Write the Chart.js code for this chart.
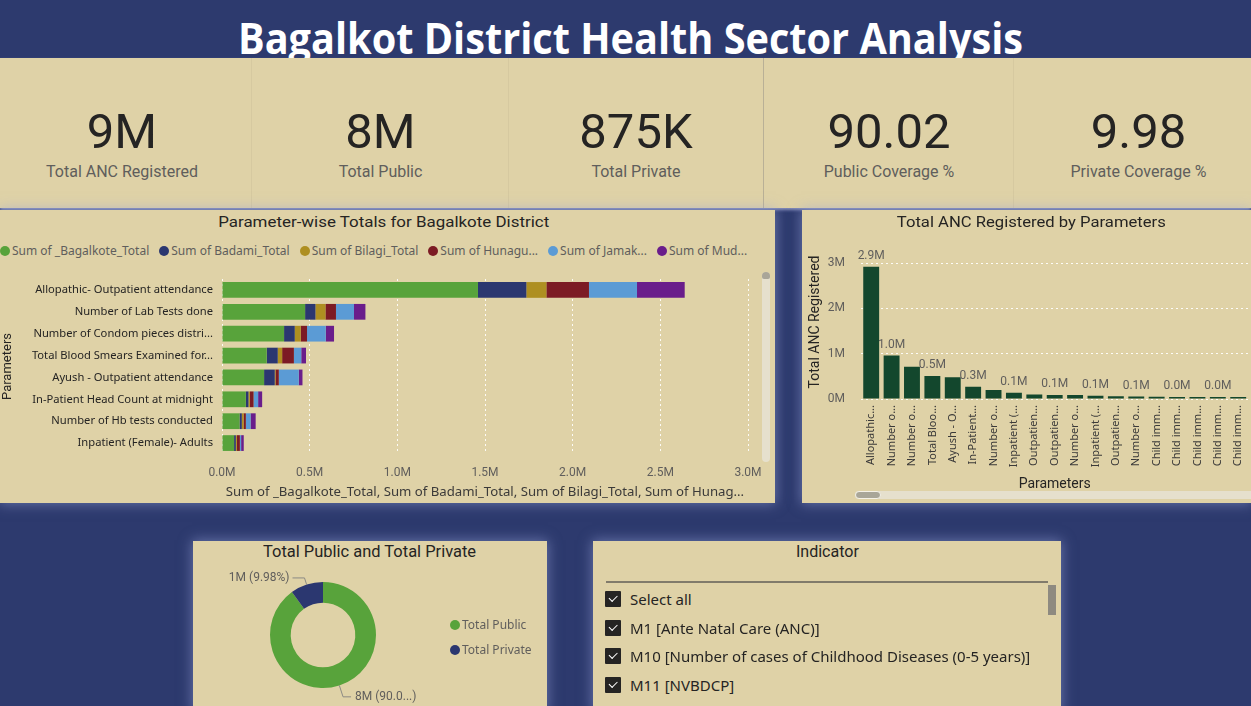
<!DOCTYPE html>
<html><head><meta charset="utf-8">
<script src="https://cdn.jsdelivr.net/npm/chart.js@4.4.1/dist/chart.umd.min.js"></script>
<style>
*{box-sizing:border-box}
body{margin:0;width:1251px;height:706px;overflow:hidden;background:#2D3A6E;position:relative;font-family:'Noto Sans',sans-serif}
.fit{display:inline-block;white-space:nowrap;transform-origin:50% 50%}
#title{position:absolute;left:5px;top:15.5px;width:1251px;text-align:center;color:#fff;font:700 43px/43px 'Open Sans'}
#kpi{position:absolute;left:0;top:58px;width:1251px;height:150px;background:#DFD2A7;box-shadow:0 2px 3px rgba(170,178,220,.75)}
.sep{position:absolute;top:0;width:1px;height:150px}
.card{position:absolute;width:250px;text-align:center}
.num{position:absolute;left:0;width:250px;top:48.7px;font:400 49px/49px Roboto;color:#252423;text-align:center}
.lab{position:absolute;left:0;width:250px;top:105.5px;font:400 16px/16px Roboto;color:#605E5C;text-align:center;white-space:nowrap}
.panel{position:absolute;background:#DFD2A7;overflow:hidden;box-shadow:0 0 12px 1px rgba(150,160,215,.55)}
.ptitle{position:absolute;text-align:center;font:400 15px/15px Roboto;color:#252423;white-space:nowrap}
canvas{position:absolute}
#legend1{position:absolute;left:0;top:33px;height:16px;display:flex;align-items:center;font:400 12px/16px 'Noto Sans';color:#605E5C;white-space:nowrap}
.li{display:flex;align-items:center;margin-right:10px}
.dot{width:10px;height:10px;border-radius:50%;margin-right:2px;flex:none}
#legend3{position:absolute;left:257px;top:71px;font:400 12px/16px 'Noto Sans';color:#605E5C}
#legend3 .li{height:25px;margin:0}
#legend3 .dot{margin-right:2px}
.item{position:absolute;left:12px;height:20px;display:flex;align-items:center;font:400 15px 'Noto Sans';color:#252423;white-space:nowrap}
.cb{width:16px;height:16px;background:#252423;border-radius:1px;position:relative;margin-right:9px;flex:none}
.cb::after{content:"";position:absolute;left:4px;top:4px;width:7px;height:3.5px;border-left:1.5px solid #fff;border-bottom:1.5px solid #fff;transform:rotate(-45deg)}
</style></head>
<body>
<div id="title"><span class="fit" data-w="785">Bagalkot District Health Sector Analysis</span></div>
<div id="kpi">
  <div class="sep" style="left:251px;background:rgba(0,0,0,.04)"></div>
  <div class="sep" style="left:508px;background:rgba(0,0,0,.04)"></div>
  <div class="sep" style="left:763px;background:#B9B096"></div>
  <div class="sep" style="left:1013px;background:rgba(0,0,0,.04)"></div>
</div>

<div id="p1" class="panel" style="left:0;top:210px;width:775px;height:293px">
  <div class="ptitle" style="left:83.5px;width:600px;top:4.7px"><span class="fit" data-w="331">Parameter-wise Totals for Bagalkote District</span></div>
  <div id="legend1"></div>
  <canvas id="c1" width="775" height="241" style="left:0;top:52px;width:775px;height:241px"></canvas>
  <div style="position:absolute;left:762px;top:62px;width:8px;height:190px;background:#E6E0CD;border-radius:4px"></div>
  <div style="position:absolute;left:762px;top:62px;width:8px;height:7px;background:#A9A598;border-radius:4px 4px 2px 2px"></div>
</div>

<div id="p2" class="panel" style="left:802px;top:210px;width:449px;height:293px">
  <div class="ptitle" style="left:29px;width:400px;top:4.7px"><span class="fit" data-w="269">Total ANC Registered by Parameters</span></div>
  <canvas id="c2" width="449" height="255" style="left:0;top:31px;width:449px;height:255px"></canvas>
  <div style="position:absolute;left:53px;top:281px;width:400px;height:8px;background:#E6E0CD;border-radius:4px"></div>
  <div style="position:absolute;left:53px;top:281px;width:26px;height:8px;background:#A9A698;border:1px solid #F4F1E6;border-radius:4px"></div>
</div>

<div id="p3" class="panel" style="left:193px;top:541px;width:354px;height:170px">
  <div class="ptitle" style="left:0;width:354px;top:2.8px;font-size:16px;line-height:16px"><span class="fit" data-w="213">Total Public and Total Private</span></div>
  <canvas id="c3" width="354" height="146" style="left:0;top:19px;width:354px;height:146px"></canvas>
  <div id="legend3"></div>
</div>

<div id="p4" class="panel" style="left:593px;top:541px;width:468px;height:170px">
  <div class="ptitle" style="left:0;width:468px;top:2.8px;font-size:16px;line-height:16px"><span class="fit" data-w="63">Indicator</span></div>
  <div style="position:absolute;left:13px;top:40px;width:442px;height:2px;background:#817B6B"></div>
  <div id="slicer"></div>
  <div style="position:absolute;left:455px;top:44px;width:8px;height:30px;background:#8E8A80"></div>
</div>

<script>
// ---------- data ----------
const parameters = [
  "Allopathic- Outpatient attendance",
  "Number of Lab Tests done",
  "Number of Condom pieces distri...",
  "Total Blood Smears Examined for...",
  "Ayush - Outpatient attendance",
  "In-Patient Head Count at midnight",
  "Number of Hb tests conducted",
  "Inpatient (Female)- Adults"
];
const seriesNames = ["Sum of _Bagalkote_Total","Sum of Badami_Total","Sum of Bilagi_Total","Sum of Hunagund_Total","Sum of Jamakhandi_Total","Sum of Mudhol_Total"];
const legendLabels = ["Sum of _Bagalkote_Total","Sum of Badami_Total","Sum of Bilagi_Total","Sum of Hunagu...","Sum of Jamak...","Sum of Mud..."];
const bagalkoteTotal  = [1460000, 474000, 354000, 255000, 240000, 136000, 100000, 69000];
const badamiTotal     = [ 276000,  59000,  61000,  63000,  61000,  15000,  13000, 10000];
const bilagiTotal     = [ 114000,  57000,  34000,  25000,   4000,   8000,  10000,  6000];
const hunagundTotal   = [ 243000,  60000,  36000,  67000,  19000,  21000,  13000, 17000];
const jamakhandiTotal = [ 274000, 103000, 107000,  42000, 114000,  26000,  27000,  7000];
const mudholTotal     = [ 272000,  65000,  47000,  27000,  21000,  23000,  29000, 15000];
const seriesColors = ["#58A33B","#2B3770","#AE8F21","#7C1B24","#5B9BD5","#6A1D8B"];
const parameterTicks = [0, 500000, 1000000, 1500000, 2000000, 2500000, 3000000];

const ancCategories = ["Allopathic...","Number o...","Number o...","Total Bloo...","Ayush - O...","In-Patient...","Number o...","Inpatient (...","Outpatien...","Outpatien...","Number o...","Inpatient (...","Outpatien...","Number o...","Child imm...","Child imm...","Child imm...","Child imm...","Child imm..."];
const ancRegistered = [2920000, 960000, 710000, 510000, 480000, 270000, 200000, 140000, 100000, 90000, 90000, 70000, 58000, 55000, 48000, 46000, 45000, 44000, 42000];
const ancTicks = [0, 1000000, 2000000, 3000000];

const sectorLabels = ["Total Public","Total Private"];
const sectorValues = [7893000, 875000];
const sectorColors = ["#58A33B","#2B3770"];

const indicatorItems = ["Select all","M1 [Ante Natal Care (ANC)]","M10 [Number of cases of Childhood Diseases (0-5 years)]","M11 [NVBDCP]",""];

// ---------- helpers ----------
const mctx = document.createElement('canvas').getContext('2d');
function truncate(text, font, maxW){
  mctx.font = font;
  if (mctx.measureText(text).width <= maxW) return text;
  let t = text;
  while (t.length && mctx.measureText(t + '...').width > maxW) t = t.slice(0,-1);
  return t + '...';
}
function donutText(valTxt, pctTxt, font, maxW){
  mctx.font = font;
  let full = valTxt + ' (' + pctTxt + ')';
  if (mctx.measureText(full).width <= maxW) return full;
  let p = pctTxt;
  while (p.length && mctx.measureText(valTxt + ' (' + p + '...)').width > maxW) p = p.slice(0,-1);
  return valTxt + ' (' + p + '...)';
}
function fmtShort(v){ if (v >= 1e6) return Math.round(v/1e6) + 'M'; if (v >= 1e3) return Math.round(v/1e3) + 'K'; return String(v); }
function fmtM(v){ return Math.round(v/1e6) + 'M'; }
function noPad(s){ s.paddingTop = 0; s.paddingBottom = 0; s.paddingLeft = 0; s.paddingRight = 0; }

// ---------- KPI cards ----------
const totalPublic = sectorValues[0], totalPrivate = sectorValues[1];
const totalANC = totalPublic + totalPrivate;
const kpis = [
  {c:122,   v:fmtShort(totalANC),    l:"Total ANC Registered"},
  {c:380.5, v:fmtShort(totalPublic), l:"Total Public"},
  {c:636,   v:fmtShort(totalPrivate),l:"Total Private"},
  {c:889,   v:(totalPublic/totalANC*100).toFixed(2),  l:"Public Coverage %"},
  {c:1138.5,v:(totalPrivate/totalANC*100).toFixed(2), l:"Private Coverage %"}
];
const kpiEl = document.getElementById('kpi');
kpis.forEach(k=>{
  const d = document.createElement('div'); d.className='card'; d.style.left=(k.c-125)+'px'; d.style.top='0';
  d.innerHTML = '<div class="num">'+k.v+'</div><div class="lab">'+k.l+'</div>';
  kpiEl.appendChild(d);
});

// ---------- legends ----------
const lg1 = document.getElementById('legend1');
legendLabels.forEach((t,i)=>{
  const d=document.createElement('div'); d.className='li';
  d.innerHTML='<span class="dot" style="background:'+seriesColors[i]+'"></span><span>'+t+'</span>';
  lg1.appendChild(d);
});
const lg3 = document.getElementById('legend3');
sectorLabels.forEach((t,i)=>{
  const d=document.createElement('div'); d.className='li';
  d.innerHTML='<span class="dot" style="background:'+sectorColors[i]+'"></span><span>'+t+'</span>';
  lg3.appendChild(d);
});
const sl = document.getElementById('slicer');
indicatorItems.forEach((t,i)=>{
  const d=document.createElement('div'); d.className='item'; d.style.top=(48 + i*28.7)+'px';
  d.innerHTML='<span class="cb"></span><span>'+t+'</span>';
  sl.appendChild(d);
});

// fit titles
document.querySelectorAll('.fit').forEach(el=>{
  const w = el.getBoundingClientRect().width;
  el.style.transform = 'scaleX(' + (parseFloat(el.dataset.w)/w) + ')';
});

// ---------- charts ----------
Chart.defaults.font.family = "'Noto Sans'";
Chart.defaults.animation = false;
Chart.defaults.devicePixelRatio = 1;
Chart.defaults.plugins.legend.display = false;
Chart.defaults.plugins.tooltip.enabled = false;

const gridDots = {color:'rgba(255,255,255,0.9)', lineWidth:1, drawTicks:false};

// Chart 1: stacked horizontal bars
const seriesData = [bagalkoteTotal, badamiTotal, bilagiTotal, hunagundTotal, jamakhandiTotal, mudholTotal];
const xTitle1 = truncate(seriesNames.join(', '), "13.2px 'Noto Sans'", 526);
new Chart(document.getElementById('c1'), {
  type:'bar',
  data:{labels:parameters, datasets: seriesNames.map((n,i)=>({label:n, data:seriesData[i], backgroundColor:seriesColors[i], borderWidth:0, categoryPercentage:1, barPercentage:0.72}))},
  options:{
    responsive:false, indexAxis:'y',
    layout:{padding:{top:17, right:27, left:0, bottom:0}},
    scales:{
      x:{stacked:true, min:0, max:3000000,
         afterBuildTicks:s=>{ s.ticks = parameterTicks.map(v=>({value:v})); },
         ticks:{padding:12, color:'#605E5C', font:{family:'Roboto', size:12}, callback:v=>(v/1e6).toFixed(1)+'M'},
         grid:gridDots, border:{display:false, dash:[2,3]},
         title:{display:true, text:xTitle1, color:'#3B3A39', font:{family:'Noto Sans', size:13.2}, padding:{top:0,bottom:3}},
         afterFit:s=>{ s.height=49; noPad(s); }},
      y:{stacked:true,
         ticks:{padding:9, color:'#252423', font:{family:'Noto Sans', size:11.2}},
         grid:{display:false, drawTicks:false}, border:{display:false},
         title:{display:true, text:'Parameters', color:'#252423', font:{family:'Roboto', size:13}, padding:0},
         afterFit:s=>{ s.width=222; noPad(s); }}
    }
  }
});

// Chart 2: columns with value labels
const barLabels = {
  id:'barLabels',
  afterDatasetsDraw(chart){
    const {ctx} = chart; const meta = chart.getDatasetMeta(0); const vals = chart.data.datasets[0].data;
    ctx.save(); ctx.font = "12px Roboto"; ctx.fillStyle = '#605E5C'; ctx.textAlign='center'; ctx.textBaseline='alphabetic';
    meta.data.forEach((bar,i)=>{ if (i===0 || i%2===1) ctx.fillText((vals[i]/1e6).toFixed(1)+'M', bar.x, bar.y-8); });
    ctx.restore();
  }
};
new Chart(document.getElementById('c2'), {
  type:'bar',
  data:{labels:ancCategories, datasets:[{label:'Total ANC Registered', data:ancRegistered, backgroundColor:'#13472D', borderWidth:0, categoryPercentage:1, barPercentage:0.78}]},
  options:{
    responsive:false,
    layout:{padding:{top:4, right:2.6, left:0, bottom:0}},
    scales:{
      y:{min:0, max:3400000,
         afterBuildTicks:s=>{ s.ticks = ancTicks.map(v=>({value:v})); },
         ticks:{padding:16, color:'#605E5C', font:{family:'Roboto', size:12}, callback:v=>(v/1e6)+'M'},
         grid:gridDots, border:{display:false, dash:[2,3]},
         title:{display:true, text:'Total ANC Registered', color:'#252423', font:{family:'Roboto', size:14}, padding:{top:4.6}},
         afterFit:s=>{ s.width=59; noPad(s); }},
      x:{ticks:{minRotation:90, maxRotation:90, autoSkip:false, padding:6, color:'#3B3A39', font:{family:'Noto Sans', size:11}},
         grid:{display:false, drawTicks:false}, border:{display:false},
         title:{display:true, text:'Parameters', color:'#252423', font:{family:'Roboto', size:14}, padding:{top:0,bottom:3.6}},
         afterFit:s=>{ s.height=97; noPad(s); }}
    }
  },
  plugins:[barLabels]
});

// Chart 3: doughnut with leader labels
const donutLabels = {
  id:'donutLabels',
  afterDatasetsDraw(chart){
    const {ctx} = chart; const meta = chart.getDatasetMeta(0);
    const vals = chart.data.datasets[0].data; const total = vals.reduce((a,b)=>a+b,0);
    ctx.save(); ctx.font = "12px Roboto"; ctx.strokeStyle = '#8C8A84'; ctx.fillStyle = '#605E5C'; ctx.lineWidth = 1;
    meta.data.forEach((arc,i)=>{
      const mid = (arc.startAngle + arc.endAngle)/2, r = arc.outerRadius;
      const cx = Math.cos(mid), cy = Math.sin(mid);
      const ext = cy > 0 ? 12 : 7;
      const x0 = arc.x + cx*r, y0 = arc.y + cy*r;
      const x1 = arc.x + cx*(r+ext), y1 = arc.y + cy*(r+ext);
      const right = cx >= 0; const x2 = x1 + (right ? 8 : -12);
      ctx.beginPath(); ctx.moveTo(x0,y0); ctx.lineTo(x1,y1); ctx.lineTo(x2,y1); ctx.stroke();
      const txt = donutText(fmtM(vals[i]), (vals[i]/total*100).toFixed(2) + '%', "12px Roboto", 62);
      ctx.textAlign = right ? 'left' : 'right'; ctx.textBaseline = 'middle';
      ctx.fillText(txt, x2 + (right ? 4 : -3), y1);
    });
    ctx.restore();
  }
};
new Chart(document.getElementById('c3'), {
  type:'doughnut',
  data:{labels:sectorLabels, datasets:[{data:sectorValues, backgroundColor:sectorColors, borderWidth:0}]},
  options:{responsive:false, cutout:'61%', layout:{padding:{left:77, right:171, top:22, bottom:18}}},
  plugins:[donutLabels]
});
</script>
</body></html>
